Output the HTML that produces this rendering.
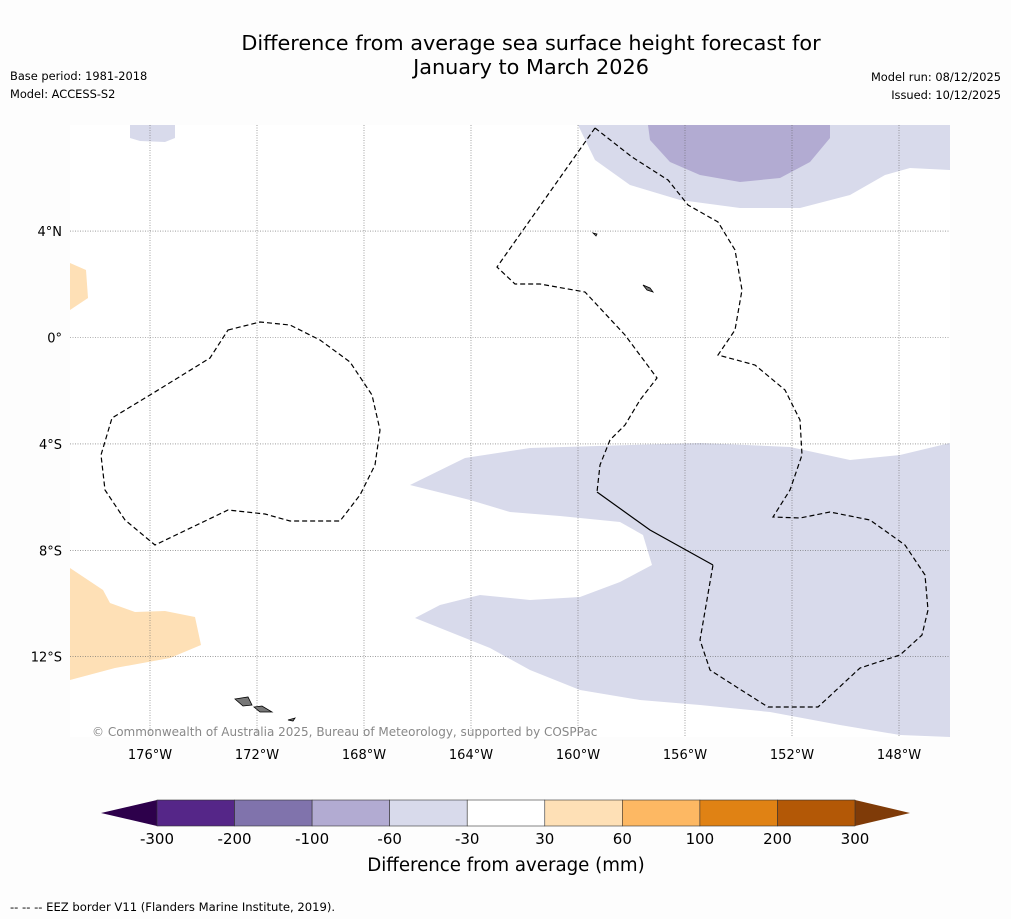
<!DOCTYPE html>
<html><head><meta charset="utf-8"><style>
body{margin:0;background:#fdfdfd;}
svg{display:block;font-family:"DejaVu Sans","Liberation Sans",sans-serif;}
</style></head><body>
<svg id="chart" width="1011" height="919" viewBox="0 0 1011 919">
<rect width="1011" height="919" fill="#fdfdfd"/>
<text x="531" y="50" font-size="20.8" text-anchor="middle">Difference from average sea surface height forecast for</text>
<text x="531" y="74" font-size="20.8" text-anchor="middle">January to March 2026</text>
<text x="10" y="80" font-size="11.4">Base period: 1981-2018</text>
<text x="10" y="98" font-size="11.4">Model: ACCESS-S2</text>
<text x="1001" y="81" font-size="11.4" text-anchor="end">Model run: 08/12/2025</text>
<text x="1001" y="99" font-size="11.4" text-anchor="end">Issued: 10/12/2025</text>
<g>
<rect x="70" y="125" width="880" height="612" fill="#ffffff"/>
<path d="M130,125 L175,125 L175,138 L165,142 L140,141 L130,138 Z" fill="#d8daeb"/>
<path d="M578,125 L595,160 L630,185 L680,200 L740,208 L800,208 L850,195 L885,175 L910,168 L950,170 L950,125 Z" fill="#d8daeb"/>
<path d="M648,125 L650,140 L670,162 L700,175 L740,182 L780,178 L810,162 L830,138 L830,125 Z" fill="#b2abd2"/>
<path d="M410,485 L465,458 L530,448 L700,443 L790,447 L850,460 L900,455 L950,443 L950,737 L900,735 L840,725 L770,712 L700,705 L640,700 L580,690 L530,670 L490,648 L445,630 L415,618 L440,605 L480,595 L530,600 L580,597 L620,582 L652,565 L643,535 L620,522 L560,516 L510,512 L470,500 L430,490 Z" fill="#d8daeb"/>
<path d="M70,263 L86,270 L88,298 L70,310 Z" fill="#fee0b6"/>
<path d="M70,568 L103,590 L110,603 L135,612 L165,611 L195,617 L201,645 L170,658 L115,668 L70,680 Z" fill="#fee0b6"/>
<g id="grid"></g>
<g fill="none" stroke="#000" stroke-width="1.2" stroke-dasharray="5,3">
<path d="M228,330 L260,322 L290,325 L320,340 L350,362 L372,395 L380,430 L375,465 L360,495 L340,521 L290,521 L265,514 L228,510 L155,545 L125,520 L105,490 L101,455 L112,418 L150,395 L210,358 Z"/>
<path d="M595,128 L632,157 L668,180 L688,205 L718,222 L735,250 L742,290 L735,330 L718,355 L755,365 L785,390 L800,420 L802,455 L790,490 L773,517 L800,518 L830,512 L870,520 L905,545 L925,575 L928,610 L922,635 L900,655 L860,668 L818,707 L768,707 L738,688 L710,670 L700,640 L713,565"/>
<path d="M595,128 L497,267 L515,284 L540,284 L585,292 L625,335 L657,378 L640,400 L625,425 L610,440 L600,465 L597,492"/>
</g>
<path d="M597,492 L650,530 L713,565" stroke="#000" stroke-width="1.2" fill="none"/>
<g fill="#777" stroke="#000" stroke-width="0.8">
<path d="M235,699 L248,697 L252,705 L243,706 Z"/>
<path d="M254,707 L262,706 L272,712 L260,712 Z"/>
<path d="M288,720 L295,718 L293,721 Z"/>
<path d="M643,285 L650,288 L653,292 L647,290 Z"/>
<path d="M593,233 L597,234 L596,236 Z"/>
</g>
<text x="92" y="736" font-size="12" fill="#888">© Commonwealth of Australia 2025, Bureau of Meteorology, supported by COSPPac</text>
</g>
<g id="axes"></g>
<g id="colorbar"></g>
<text x="506" y="871" font-size="18.2" text-anchor="middle">Difference from average (mm)</text>
<text x="10" y="911" font-size="11.6">--  --  -- EEZ border V11 (Flanders Marine Institute, 2019).</text>
</svg>
<script>
const lonTicks=[-176,-172,-168,-164,-160,-156,-152,-148];
const latTicks=[4,0,-4,-8,-12];
const cbBounds=[-300,-200,-100,-60,-30,30,60,100,200,300];
const cbColors=["#552688","#8073ac","#b2abd2","#d8daeb","#ffffff","#fee0b6","#fdb863","#e08214","#b35806"];
const cbExtend=["#2d004b","#7f3b08"];
const NS="http://www.w3.org/2000/svg";
function xLon(l){return 150+(l+176)*26.75;}
function yLat(l){return 337.5-l*26.6;}
function mk(t,a,p){const e=document.createElementNS(NS,t);for(const k in a)e.setAttribute(k,a[k]);p.appendChild(e);return e;}
const grid=document.getElementById('grid'),axes=document.getElementById('axes'),cb=document.getElementById('colorbar');
lonTicks.forEach(l=>{const x=xLon(l);
 const g=mk('line',{x1:x,x2:x,y1:125,y2:737,stroke:'#666','stroke-width':0.6,'stroke-dasharray':'1,1.5'},grid);
 
 
 const t=mk('text',{x:x,y:759,'font-size':13,'text-anchor':'middle'},axes);t.textContent=Math.abs(l)+'°W';
 
 });
latTicks.forEach(l=>{const y=yLat(l);
 const g=mk('line',{x1:70,x2:950,y1:y,y2:y,stroke:'#666','stroke-width':0.6,'stroke-dasharray':'1,1.5'},grid);
 
 
 const t=mk('text',{x:62,y:y+5,'font-size':13,'text-anchor':'end'},axes);t.textContent=l===0?'0°':Math.abs(l)+'°'+(l>0?'N':'S');
 
 });
const cx0=157,cx1=855,cy0=800,cy1=826,n=cbColors.length,w=(cx1-cx0)/n;
const lt=mk('path',{d:`M${cx0},${cy0} L101,${(cy0+cy1)/2} L${cx0},${cy1} Z`,fill:cbExtend[0]},cb);


const rt=mk('path',{d:`M${cx1},${cy0} L910,${(cy0+cy1)/2} L${cx1},${cy1} Z`,fill:cbExtend[1]},cb);


cbColors.forEach((c,i)=>{const r=mk('rect',{x:cx0+i*w,y:cy0,width:w,height:cy1-cy0,fill:c,stroke:'#333','stroke-width':0.6},cb);
 
 });
cbBounds.forEach((b,i)=>{const t=mk('text',{x:cx0+i*w,y:844,'font-size':15,'text-anchor':'middle'},cb);t.textContent=b;
 
 });
</script>
</body></html>
